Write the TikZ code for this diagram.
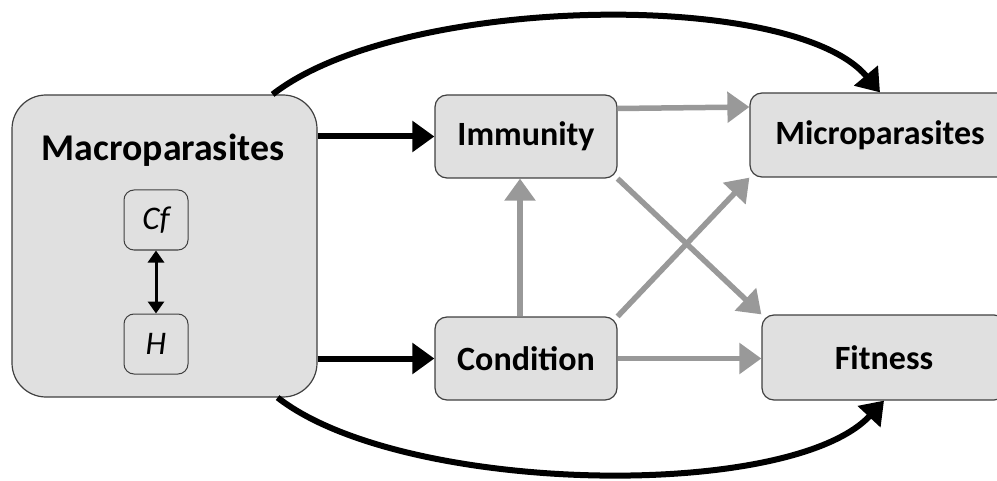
\documentclass[tikz,border=0pt]{standalone}
\usepackage{fontspec}
\setmainfont{Carlito}
\usetikzlibrary{arrows.meta,positioning}

\definecolor{boxgray}{RGB}{224,224,224}
\definecolor{linkgray}{RGB}{153,153,153}

\tikzset{
  box/.style={draw=black!75, line width=0.6pt, fill=boxgray, rounded corners=6pt,
    minimum width=91pt, minimum height=41.5pt, inner sep=0pt,
    font=\fontsize{17}{20}\selectfont\bfseries},
  smallbox/.style={draw=black!75, line width=0.5pt, rounded corners=5pt,
    minimum width=32pt, minimum height=30pt, inner sep=0pt,
    font=\fontsize{16.5}{19}\selectfont\itshape},
  blacklink/.style={line width=3pt, -{Triangle[length=11pt,width=15pt]}},
  graylink/.style={draw=linkgray, line width=2.75pt, -{Triangle[length=11pt,width=15pt]}},
  bothlink/.style={line width=1.5pt, {Triangle[length=6pt,width=8pt]}-{Triangle[length=6pt,width=8pt]}}
}

\begin{document}
\begin{tikzpicture}[x=0.5pt, y=-0.5pt]
  \useasboundingbox (0,0) rectangle (997,481);

  \node[box, rounded corners=17pt, minimum width=152.5pt, minimum height=151pt] (macro) at (164.5,246) {};
  \node[font=\fontsize{18.9}{22}\selectfont\bfseries, inner sep=0pt] (macrotitle) at (163,150) {Macroparasites};
  \node[smallbox] (cf) at (156,220) {Cf};
  \node[smallbox, below=31.5pt of cf] (h) {H};

  \node[box] (imm) at (526,136.5) {Immunity};
  \node[box] (cond) at (526,358.5) {Condition};
  \node[box, minimum width=130pt, minimum height=42pt] (micro) at (880,135) {Microparasites};
  \node[box, minimum width=122pt, minimum height=42.5pt] (fit) at (884,357.5) {Fitness};

  \draw[bothlink] (cf) -- (h);

  \draw[blacklink] (macro.east |- imm) -- (imm);
  \draw[blacklink] (macro.east |- cond) -- (cond);
  \draw[blacklink] ([xshift=-22.5pt]macro.north east)
    to[out=38, in=130, out distance=81pt, in distance=68pt] (micro.north);
  \draw[blacklink] ([xshift=-20pt]macro.south east)
    to[out=-38, in=-133, out distance=79pt, in distance=69pt] (fit.south);

  \draw[graylink] ([yshift=14pt]imm.east) -- ([yshift=14pt]micro.west);
  \draw[graylink] (cond.east) -- (cond.east -| fit.west);
  \draw[graylink] ([xshift=-3pt]cond.north) -- ([xshift=-3pt]imm.south);
  \draw[graylink] (imm.south east) -- (fit.north west);
  \draw[graylink] (cond.north east) -- (micro.south west);
\end{tikzpicture}
\end{document}
